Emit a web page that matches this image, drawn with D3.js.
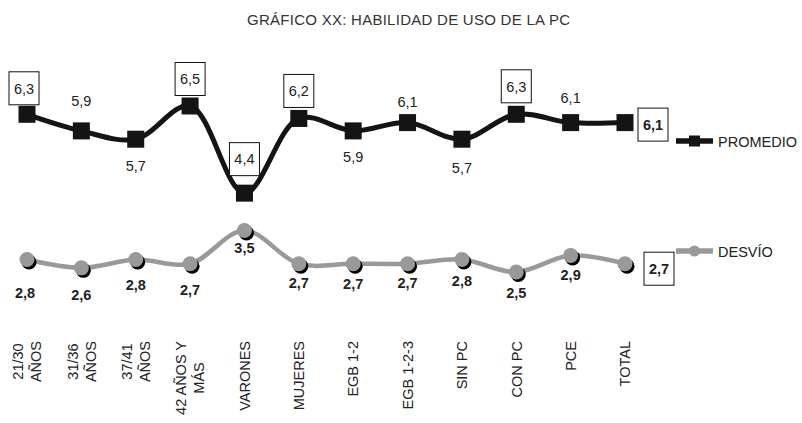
<!DOCTYPE html>
<html>
<head>
<meta charset="utf-8">
<script src="https://cdn.jsdelivr.net/npm/d3@7/dist/d3.min.js"></script>
<style>
  html, body { margin: 0; padding: 0; background: #fff; }
  svg { display: block; font-family: "Liberation Sans", Arial, Helvetica, sans-serif; }
</style>
</head>
<body>
<svg id="chart" width="802" height="423"></svg>
<script>
// ---- data ----
const titleText = "GRÁFICO XX: HABILIDAD DE USO DE LA PC";
const categories = [
  "21/30\nAÑOS", "31/36\nAÑOS", "37/41\nAÑOS", "42 AÑOS Y\nMÁS",
  "VARONES", "MUJERES", "EGB 1-2", "EGB 1-2-3",
  "SIN PC", "CON PC", "PCE", "TOTAL"
];
const promedio = [6.3, 5.9, 5.7, 6.5, 4.4, 6.2, 5.9, 6.1, 5.7, 6.3, 6.1, 6.1];
const desvio   = [2.8, 2.6, 2.8, 2.7, 3.5, 2.7, 2.7, 2.7, 2.8, 2.5, 2.9, 2.7];
const seriesNames = ["PROMEDIO", "DESVÍO"];

// ---- label placement (vertical offset of each value label from its marker) ----
const promLabelDy    = [-26, -30, 27, -27, -34, -27.5, 26, -21, 29, -28, -25, 2];
const promLabelBoxed = [true, false, false, true, true, true, false, false, false, true, false, true];
const desvLabelDy    = [33, 27, 25, 26, 17.5, 19, 20, 19, 21, 21, 19, 5];

const fmt = d3.formatLocale({ decimal: ",", thousands: ".", grouping: [3], currency: ["", ""] }).format(".1f");

const svg = d3.select("#chart");
const textColor = "#222";
const black = "#141414";
const grey = "#999999";

const idx = d3.range(categories.length);
const last = categories.length - 1;

const x = d3.scalePoint().domain(idx).range([27, 625]);
const y = d3.scaleLinear().domain([0, 7]).range([375.75, 85.25]);

// title
svg.append("text")
  .attr("x", 408.5).attr("y", 25)
  .attr("text-anchor", "middle")
  .attr("font-size", 15)
  .attr("fill", "#333")
  .attr("textLength", 323).attr("lengthAdjust", "spacing")
  .text(titleText);

const line = d3.line()
  .x(i => x(i))
  .curve(d3.curveCatmullRom.alpha(0.5));

// desvío line
svg.append("path")
  .attr("d", line.y(i => y(desvio[i]))(idx))
  .attr("fill", "none").attr("stroke", grey).attr("stroke-width", 4.5)
  .attr("stroke-linejoin", "round");

// promedio line
svg.append("path")
  .attr("d", line.y(i => y(promedio[i]))(idx))
  .attr("fill", "none").attr("stroke", black).attr("stroke-width", 5)
  .attr("stroke-linejoin", "round");

// desvío markers: grey dot with dark drop shadow
const dots = svg.append("g");
dots.selectAll("circle.shadow").data(idx).join("circle")
  .attr("class", "shadow")
  .attr("cx", i => x(i) + 2).attr("cy", i => y(desvio[i]) + 2.5)
  .attr("r", 7.5).attr("fill", "#000");
dots.selectAll("circle.dot").data(idx).join("circle")
  .attr("class", "dot")
  .attr("cx", i => x(i)).attr("cy", i => y(desvio[i]))
  .attr("r", 7.5).attr("fill", grey);

// promedio markers: black squares
const sq = 17;
svg.append("g").selectAll("rect").data(idx).join("rect")
  .attr("x", i => x(i) - sq / 2).attr("y", i => y(promedio[i]) - sq / 2)
  .attr("width", sq).attr("height", sq).attr("fill", black);

// value labels
function drawLabel(g, cx, cy, txt, boxed, bold) {
  if (boxed) {
    g.append("rect")
      .attr("x", cx - 15).attr("y", cy - 16.5)
      .attr("width", 30).attr("height", 33)
      .attr("fill", "#fff").attr("stroke", "#111").attr("stroke-width", 1);
  }
  g.append("text")
    .attr("x", cx).attr("y", cy).attr("dy", "0.36em")
    .attr("text-anchor", "middle")
    .attr("font-size", 14.5)
    .attr("font-weight", bold ? "bold" : "normal")
    .attr("fill", textColor)
    .text(txt);
}

const labels = svg.append("g");
idx.forEach(i => {
  const isTotal = i === last;
  drawLabel(labels,
    x(i) + (isTotal ? 28 : (i === 0 ? -3 : 0)),
    y(promedio[i]) + promLabelDy[i],
    fmt(promedio[i]), promLabelBoxed[i], isTotal);
  drawLabel(labels,
    x(i) + (isTotal ? 34 : (i === 0 ? -2 : 0)),
    y(desvio[i]) + desvLabelDy[i],
    fmt(desvio[i]), isTotal, true);
});

// category axis labels, rotated, top-aligned blocks
const catTop = 341;
const lineGap = 18;
const axisG = svg.append("g");
idx.forEach(i => {
  const lines = categories[i].split("\n");
  const g = axisG.append("g");
  const texts = lines.map((t, k) => g.append("text")
    .attr("font-size", 14.5)
    .attr("fill", textColor)
    .attr("text-anchor", "middle")
    .attr("dy", "0.36em")
    .text(t));
  const maxLen = d3.max(texts, t => t.node().getComputedTextLength());
  const cy = catTop + maxLen / 2;
  texts.forEach((t, k) => {
    const cx = x(i) + (k - (lines.length - 1) / 2) * lineGap;
    t.attr("transform", `translate(${cx},${cy}) rotate(-90)`);
  });
});

// legend
const legend = svg.append("g");
const legY = [141, 251];
legend.append("line")
  .attr("x1", 676).attr("x2", 713).attr("y1", legY[0]).attr("y2", legY[0])
  .attr("stroke", black).attr("stroke-width", 5.5);
legend.append("rect")
  .attr("x", 694.5 - 5.5).attr("y", legY[0] - 5.5).attr("width", 11).attr("height", 11)
  .attr("fill", black);
legend.append("line")
  .attr("x1", 676).attr("x2", 713).attr("y1", legY[1]).attr("y2", legY[1])
  .attr("stroke", grey).attr("stroke-width", 5.5);
legend.append("circle")
  .attr("cx", 694.5).attr("cy", legY[1]).attr("r", 5.5).attr("fill", grey);
seriesNames.forEach((n, k) => {
  legend.append("text")
    .attr("x", 718).attr("y", legY[k] + 1).attr("dy", "0.36em")
    .attr("font-size", 14.5).attr("fill", textColor)
    .text(n);
});
</script>
</body>
</html>
